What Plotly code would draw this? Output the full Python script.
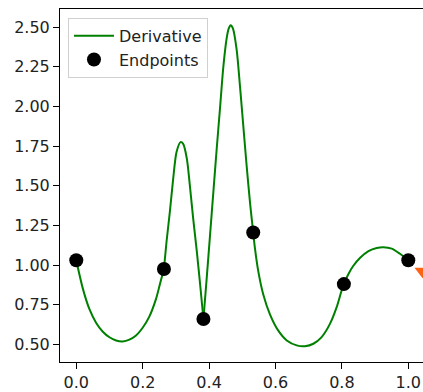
import plotly.graph_objects as go

# Derivative curve samples (x, y), piecewise between the endpoints
deriv_x = [
    0.0, 0.02, 0.04, 0.06, 0.08, 0.10, 0.12, 0.14, 0.16, 0.18, 0.20, 0.22, 0.24, 0.252, 0.264,
    0.272, 0.282, 0.292, 0.302, 0.314, 0.322, 0.333, 0.342, 0.352, 0.363, 0.373, 0.383,
    0.393, 0.403, 0.413, 0.423, 0.433, 0.443, 0.453, 0.459, 0.465, 0.472, 0.483, 0.493,
    0.503, 0.513, 0.523, 0.533,
    0.538, 0.548, 0.563, 0.583, 0.608, 0.634, 0.664, 0.689, 0.714, 0.739, 0.764, 0.784,
    0.799, 0.806,
    0.819, 0.834, 0.855, 0.880, 0.905, 0.925, 0.950, 0.975, 1.0,
]
deriv_y = [
    1.03, 0.85, 0.72, 0.635, 0.58, 0.545, 0.525, 0.519, 0.53, 0.556, 0.605, 0.675, 0.785, 0.88, 0.975,
    1.15, 1.338, 1.546, 1.713, 1.775, 1.764, 1.671, 1.504, 1.296, 1.088, 0.879, 0.66,
    0.921, 1.191, 1.463, 1.733, 1.99, 2.25, 2.43, 2.49, 2.512, 2.49, 2.358, 2.129,
    1.879, 1.629, 1.40, 1.205,
    1.108, 0.963, 0.816, 0.691, 0.588, 0.525, 0.494, 0.489, 0.504, 0.546, 0.629, 0.733,
    0.838, 0.88,
    0.941, 0.994, 1.046, 1.088, 1.108, 1.113, 1.104, 1.071, 1.03,
]

# Segment endpoints
end_x = [0.0, 0.264, 0.383, 0.533, 0.806, 1.0]
end_y = [1.03, 0.975, 0.66, 1.205, 0.88, 1.03]

# Marker from the neighbouring series sitting on the right edge
edge_x = [1.043]
edge_y = [0.961]

y_ticks = [0.5, 0.75, 1.0, 1.25, 1.5, 1.75, 2.0, 2.25, 2.5]
x_ticks = [0.0, 0.2, 0.4, 0.6, 0.8, 1.0]

FONT = "DejaVu Sans"
GREEN = "#008000"

fig = go.Figure()

# split the curve into its pieces so the joins stay sharp
cut_idx = [deriv_x.index(v) for v in end_x]
for k in range(len(cut_idx) - 1):
    a, b = cut_idx[k], cut_idx[k + 1]
    fig.add_trace(go.Scatter(
        x=deriv_x[a:b + 1], y=deriv_y[a:b + 1],
        mode="lines", name="Derivative",
        line=dict(color=GREEN, width=2, shape="spline", smoothing=0.8),
        legendgroup="deriv", showlegend=(k == 0),
    ))

fig.add_trace(go.Scatter(
    x=end_x, y=end_y, mode="markers", name="Endpoints",
    marker=dict(color="black", size=14),
))

fig.add_trace(go.Scatter(
    x=edge_x, y=edge_y, mode="markers", showlegend=False,
    marker=dict(color="#ff6414", size=14, symbol="triangle-down"),
))

fig.update_layout(
    width=423, height=392,
    margin=dict(l=60, r=0, t=9, b=27),
    paper_bgcolor="white", plot_bgcolor="white",
    font=dict(family=FONT, size=16, color="black"),
    showlegend=True,
    legend=dict(
        x=0.022, y=0.975, xanchor="left", yanchor="top",
        bgcolor="rgba(255,255,255,0.8)", bordercolor="#d0d0d0", borderwidth=1,
        font=dict(family=FONT, size=16, color="#222"),
        tracegroupgap=0, itemwidth=40,
    ),
    xaxis=dict(
        range=[-0.049, 1.0443], tickvals=x_ticks, tickformat=".1f",
        showgrid=False, zeroline=False,
        showline=True, linecolor="black", linewidth=1, mirror=True,
        ticks="outside", ticklen=6, tickcolor="black", tickwidth=1,
        tickfont=dict(family=FONT, size=16, color="#222"),
    ),
    yaxis=dict(
        range=[0.389, 2.614], tickvals=y_ticks, tickformat=".2f",
        showgrid=False, zeroline=False,
        showline=True, linecolor="black", linewidth=1, mirror=False,
        ticks="outside", ticklen=6, tickcolor="black", tickwidth=1,
        tickfont=dict(family=FONT, size=16, color="#222"),
    ),
)

fig.write_html("out.html")
